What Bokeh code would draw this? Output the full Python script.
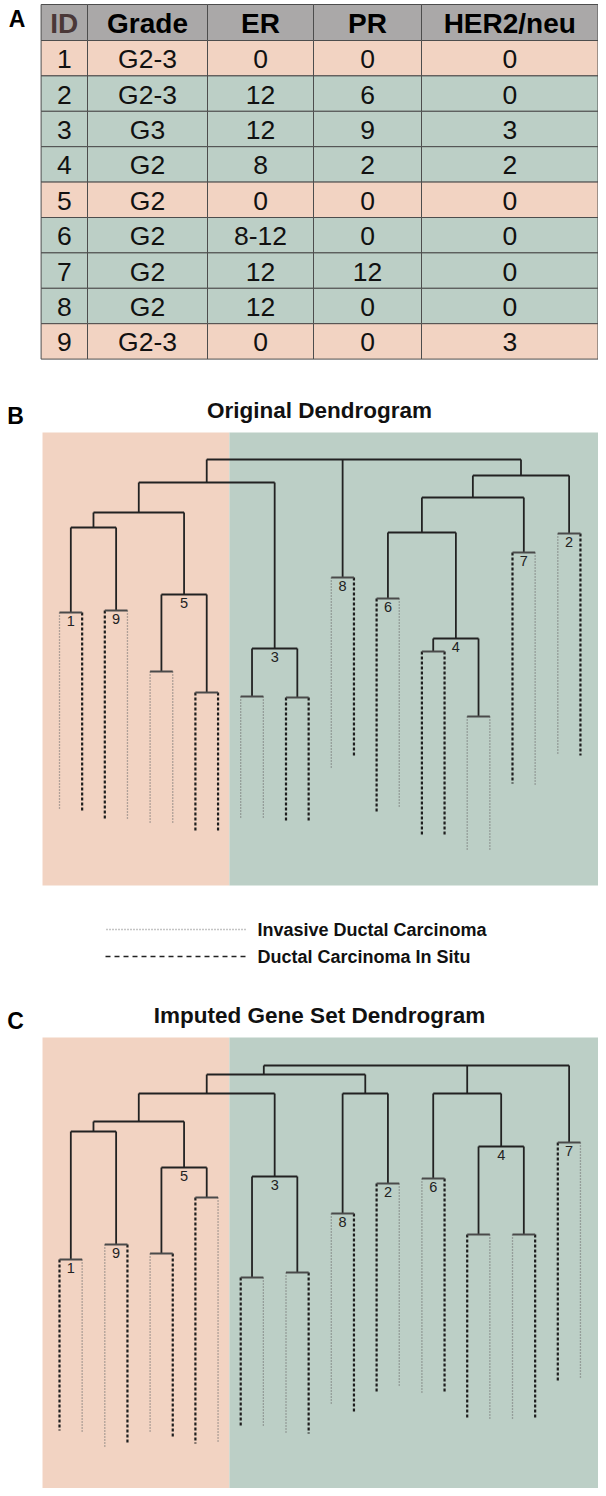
from bokeh.plotting import figure
from bokeh.models import Range1d, ColumnDataSource
from bokeh.core.properties import value
from bokeh.embed import file_html
from bokeh.resources import INLINE

# ------------------------------------------------------------------ data
# Panel A table
table_header = ["ID", "Grade", "ER", "PR", "HER2/neu"]
sample_id = ["1", "2", "3", "4", "5", "6", "7", "8", "9"]
grade = ["G2-3", "G2-3", "G3", "G2", "G2", "G2", "G2", "G2", "G2-3"]
er_score = ["0", "12", "12", "8", "0", "8-12", "12", "12", "0"]
pr_score = ["0", "6", "9", "2", "0", "0", "12", "0", "0"]
her2_score = ["0", "0", "3", "2", "0", "0", "0", "0", "3"]
er_group = ["neg", "pos", "pos", "pos", "neg", "pos", "pos", "pos", "neg"]

# Panel B: Original dendrogram (24 leaves, node ids 24.. follow merge order)
b_leaf_sample = ["1", "1", "9", "9", "5", "5", "5", "5", "3", "3", "3", "3",
                 "8", "8", "6", "6", "4", "4", "4", "4", "7", "7", "2", "2"]
b_leaf_type = ["IDC", "DCIS", "DCIS", "IDC", "IDC", "IDC", "DCIS", "DCIS",
               "IDC", "IDC", "DCIS", "DCIS", "IDC", "DCIS", "DCIS", "IDC",
               "DCIS", "DCIS", "IDC", "IDC", "DCIS", "IDC", "IDC", "DCIS"]
b_leaf_end = [7.5, 7.3, 6.7, 6.5, 6.2, 6.2, 5.3, 5.3, 6.7, 6.7, 6.3, 6.3,
              11.7, 12.9, 7.2, 7.7, 5.0, 5.0, 3.5, 3.5, 10.2, 10.0, 13.1, 13.0]
b_merge_children = [[0, 1], [2, 3], [4, 5], [6, 7], [8, 9], [10, 11], [12, 13],
                    [14, 15], [16, 17], [18, 19], [20, 21], [22, 23],
                    [26, 27], [28, 29], [32, 33], [24, 25], [39, 36], [40, 37],
                    [31, 38], [42, 34], [43, 35], [41, 30, 44]]
b_merge_height = [27.3, 27.5, 21.4, 19.3, 18.9, 18.8, 30.8, 28.7, 23.4, 16.9,
                  33.3, 35.2, 29.1, 23.7, 24.7, 35.8, 37.3, 40.3, 35.3, 38.8,
                  41.0, 42.6]
b_merge_label = ["1", "9", "", "", "", "", "8", "6", "", "", "7", "2",
                 "5", "3", "4", "", "", "", "", "", "", ""]
b_merge_stem = [0.5] * 22

# Panel C: Imputed gene set dendrogram
c_leaf_sample = ["1", "1", "9", "9", "5", "5", "5", "5", "3", "3", "3", "3",
                 "8", "8", "2", "2", "6", "6", "4", "4", "4", "4", "7", "7"]
c_leaf_type = ["DCIS", "IDC", "IDC", "DCIS", "IDC", "DCIS", "DCIS", "IDC",
               "DCIS", "IDC", "IDC", "DCIS", "IDC", "DCIS", "DCIS", "IDC",
               "IDC", "DCIS", "DCIS", "IDC", "IDC", "DCIS", "DCIS", "IDC"]
c_leaf_end = [5.9, 5.7, 4.2, 4.6, 5.6, 5.2, 4.6, 4.8, 6.4, 6.2, 5.6, 5.6,
              8.6, 7.6, 9.7, 10.3, 9.7, 9.6, 7.1, 7.1, 7.1, 7.0, 10.8, 11.1]
c_merge_children = [[0, 1], [2, 3], [4, 5], [6, 7], [8, 9], [10, 11], [12, 13],
                    [14, 15], [16, 17], [18, 19], [20, 21], [22, 23],
                    [26, 27], [28, 29], [33, 34], [24, 25], [39, 36], [40, 37],
                    [30, 31], [41, 42], [32, 38], [43, 44, 35]]
c_merge_height = [23.0, 24.5, 23.6, 29.2, 21.2, 21.7, 27.6, 30.6, 31.1, 25.5,
                  25.5, 34.7, 32.2, 31.3, 34.3, 35.8, 36.8, 39.6, 39.6, 41.5,
                  39.6, 42.4]
c_merge_label = ["1", "9", "", "", "", "", "8", "2", "6", "", "", "7",
                 "5", "3", "4", "", "", "", "", "", "", ""]
c_merge_stem = [0.5] * 19 + [0.36] + [0.5] * 2

legend_labels = ["Invasive Ductal Carcinoma", "Ductal Carcinoma In Situ"]
panel_titles = ["Original Dendrogram", "Imputed Gene Set Dendrogram"]

# ------------------------------------------------------------------ style
PINK = "#f2d3c2"
GREEN = "#bccfc6"
HEAD = "#aaa8a8"
GRID = "#4d4d4d"
FONT = value("Liberation Sans")

# ------------------------------------------------------------------ figure
X0, X1, Y0, Y1 = 0, 598, 0, 1488
p = figure(width=X1 - X0, height=Y1 - Y0, x_range=Range1d(X0, X1),
           y_range=Range1d(Y1, Y0), output_backend="svg",
           toolbar_location=None, min_border=0,
           x_axis_location=None, y_axis_location=None)
p.grid.visible = False
p.outline_line_color = None
p.background_fill_color = "white"

# leaf-index x scale and distance y scales for the dendrograms
LEAF0, LEAF_DX = 59.0, 22.65
PX_PER_UNIT = 10.0
B_BASE, C_BASE = 885.0, 1489.0
p.extra_x_ranges = {"leaf": Range1d((X0 - LEAF0) / LEAF_DX, (X1 - LEAF0) / LEAF_DX)}
p.extra_y_ranges = {
    "distB": Range1d((B_BASE - Y1) / PX_PER_UNIT, (B_BASE - Y0) / PX_PER_UNIT),
    "distC": Range1d((C_BASE - Y1) / PX_PER_UNIT, (C_BASE - Y0) / PX_PER_UNIT),
}

# ------------------------------------------------------------------ panel A
col_edges = [40.6, 87, 207, 313, 421, 597.5]
t_top, head_h, row_h = 4.0, 36.0, 35.4
cols = [sample_id, grade, er_score, pr_score, her2_score]

cl, cr, ct, cb, cf = [], [], [], [], []
for j in range(5):
    cl.append(col_edges[j]); cr.append(col_edges[j + 1])
    ct.append(t_top); cb.append(t_top + head_h); cf.append(HEAD)
for i in range(len(sample_id)):
    yt = t_top + head_h + i * row_h
    for j in range(5):
        cl.append(col_edges[j]); cr.append(col_edges[j + 1])
        ct.append(yt); cb.append(yt + row_h)
        cf.append(PINK if er_group[i] == "neg" else GREEN)
p.quad(left=cl, right=cr, top=ct, bottom=cb, fill_color=cf,
       line_color=GRID, line_width=1)

hx = [(col_edges[j] + col_edges[j + 1]) / 2 for j in range(5)]
p.text(x=hx, y=[t_top + head_h / 2 + 1] * 5, text=table_header,
       text_color=["#4a3838", "black", "black", "black", "black"],
       text_align="center", text_baseline="middle", text_font=FONT,
       text_font_size=value("28px"), text_font_style="bold")
tx, ty, tt = [], [], []
for i in range(len(sample_id)):
    for j in range(5):
        tx.append(hx[j])
        ty.append(t_top + head_h + (i + 0.5) * row_h + 1)
        tt.append(cols[j][i])
p.text(x=tx, y=ty, text=tt, text_color="#111111", text_align="center",
       text_baseline="middle", text_font=FONT, text_font_size=value("26.5px"))

# panel letters
p.text(x=[16.5, 15, 15], y=[18, 415, 1020], text=["A", "B", "C"],
       text_align="center", text_baseline="middle", text_font=FONT,
       text_font_size=value("23px"), text_font_style="bold", text_color="black")

# titles
p.text(x=[319, 319], y=[410, 1015], text=panel_titles, text_align="center",
       text_baseline="middle", text_font=FONT, text_font_size=value("22.5px"),
       text_font_style="bold", text_color="#111111")


# ------------------------------------------------------------------ dendrograms
def draw_dendro(leaf_sample, leaf_type, leaf_end, children, heights, labels,
                stem, yname, top_units):
    n = len(leaf_type)
    # background split by ER group of each leaf's sample
    grp = {s: g for s, g in zip(sample_id, er_group)}
    first_pos = next(i for i, s in enumerate(leaf_sample) if grp[s] == "pos")
    split = first_pos - 0.5
    p.quad(left=[-0.75, split], right=[split, 23.93], bottom=[0, 0],
           top=[top_units, top_units], fill_color=[PINK, GREEN],
           line_color=None, x_range_name="leaf", y_range_name=yname)

    pos = [float(i) for i in range(n)]
    for k, ch in enumerate(children):
        xs = [pos[c] for c in ch]
        if len(ch) == 2:
            pos.append(xs[0] + stem[k] * (xs[1] - xs[0]))
        else:
            pos.append((min(xs) + max(xs)) / 2)
    node_h = list(leaf_end) + list(heights)

    seg = {"solid": dict(x0=[], y0=[], x1=[], y1=[]),
           "bar": dict(x0=[], y0=[], x1=[], y1=[]),
           "IDC": dict(x0=[], y0=[], x1=[], y1=[]),
           "DCIS": dict(x0=[], y0=[], x1=[], y1=[])}

    def add(key, a, b, c, d):
        s = seg[key]
        s["x0"].append(a); s["y0"].append(b); s["x1"].append(c); s["y1"].append(d)

    for k, ch in enumerate(children):
        h = heights[k]
        xs = [pos[c] for c in ch]
        all_leaf = all(c < n for c in ch)
        add("bar" if all_leaf else "solid", min(xs), h, max(xs), h)
        for c in ch:
            if c < n:
                add(leaf_type[c], pos[c], h, pos[c], leaf_end[c])
            else:
                add("solid", pos[c], h, pos[c], node_h[c])

    kw = dict(x_range_name="leaf", y_range_name=yname)
    p.segment(x0="x0", y0="y0", x1="x1", y1="y1",
              source=ColumnDataSource(seg["IDC"]), line_color="#6e6e6e",
              line_width=1.3, line_dash="1 2", **kw)
    p.segment(x0="x0", y0="y0", x1="x1", y1="y1",
              source=ColumnDataSource(seg["DCIS"]), line_color="#1e1e1e",
              line_width=2.2, line_dash="3 2", **kw)
    p.segment(x0="x0", y0="y0", x1="x1", y1="y1",
              source=ColumnDataSource(seg["solid"]), line_color="#222222",
              line_width=1.8, **kw)
    p.segment(x0="x0", y0="y0", x1="x1", y1="y1",
              source=ColumnDataSource(seg["bar"]), line_color="#4a4a4a",
              line_width=2, **kw)

    lx, ly, lt = [], [], []
    for k, lab in enumerate(labels):
        if lab:
            lx.append(pos[n + k]); ly.append(heights[k] - 0.35); lt.append(lab)
    p.text(x=lx, y=ly, text=lt, text_align="center", text_baseline="top",
           text_font=FONT, text_font_size=value("14.5px"), text_color="#222222",
           **kw)


draw_dendro(b_leaf_sample, b_leaf_type, b_leaf_end, b_merge_children,
            b_merge_height, b_merge_label, b_merge_stem, "distB", 45.3)
draw_dendro(c_leaf_sample, c_leaf_type, c_leaf_end, c_merge_children,
            c_merge_height, c_merge_label, c_merge_stem, "distC", 45.2)

# ------------------------------------------------------------------ legend
p.segment(x0=[106], y0=[929], x1=[245], y1=[929], line_color="#8a8a8a",
          line_width=1.3, line_dash="1 2")
p.segment(x0=[105], y0=[956], x1=[247], y1=[956], line_color="#222222",
          line_width=1.5, line_dash="5 4")
p.text(x=[257, 257], y=[929, 956], text=legend_labels, text_align="left",
       text_baseline="middle", text_font=FONT, text_font_size=value("18px"),
       text_font_style="bold", text_color="#111111")

open("out.html", "w").write(file_html(p, INLINE))
